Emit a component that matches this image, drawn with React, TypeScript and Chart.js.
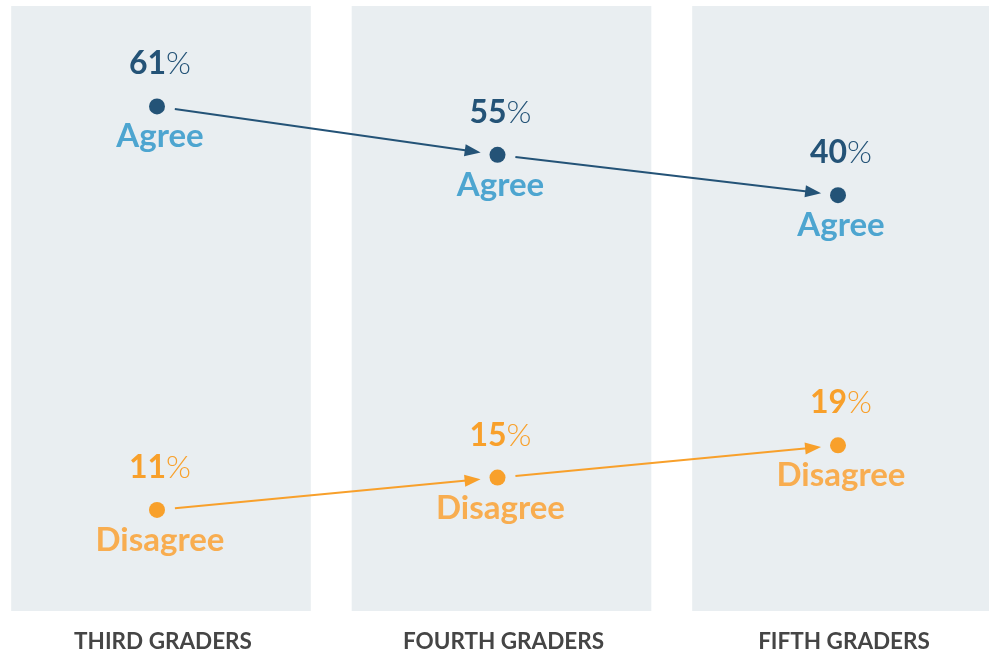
import React, { useEffect, useRef } from "react";
import { Chart, registerables } from "chart.js";

Chart.register(...registerables);

// ---- data ----
const categories = ["THIRD GRADERS", "FOURTH GRADERS", "FIFTH GRADERS"];
const seriesNames = ["Agree", "Disagree"];
// percentages printed above each point
const agreeLabels = [61, 55, 40];
const disagreeLabels = [11, 15, 19];
// heights at which the reference draws each point (the 40% point sits at the 50 level)
const agreePlotted = [61, 55, 50];
const disagreePlotted = [11, 15, 19];

// ---- styles ----
const PANEL = "#e9eef1";
const NAVY = "#245377";
const AGREE_TEXT = "#4da5d0";
const ORANGE = "#f8a02b";
const DISAGREE_TEXT = "#f8ad50";
const AXIS_TEXT = "#454545";
const FONT = "Lato, 'Noto Sans', sans-serif";

const X_MIN = -157 / 340.5;
const X_MAX = 832 / 340.5;
const Y_MIN = -1.53;
const Y_MAX = 73.45;
const PANEL_HALF = 0.44;
const PANEL_SHIFT = 4 / 340.5;
const TEXT_DX = 3;

const numberColors = [NAVY, ORANGE];
const nameColors = [AGREE_TEXT, DISAGREE_TEXT];
const lineColors = [NAVY, ORANGE];
const labelSets = [agreeLabels, disagreeLabels];

const backgroundPlugin = {
  id: "panelsAndArrows",
  beforeDatasetsDraw(chart: any) {
    const { ctx, scales } = chart;
    const x = scales.x;
    const y = scales.y;
    ctx.save();
    ctx.fillStyle = PANEL;
    const top = y.getPixelForValue(Y_MAX);
    const bottom = y.getPixelForValue(Y_MIN);
    categories.forEach((_, i) => {
      const l = x.getPixelForValue(i + PANEL_SHIFT - PANEL_HALF);
      const r = x.getPixelForValue(i + PANEL_SHIFT + PANEL_HALF);
      ctx.fillRect(l, top, r - l, bottom - top);
    });
    // arrows
    [0, 1].forEach((ds) => {
      const pts = chart.getDatasetMeta(ds).data;
      ctx.strokeStyle = lineColors[ds];
      ctx.fillStyle = lineColors[ds];
      ctx.lineWidth = 2;
      for (let i = 0; i < pts.length - 1; i++) {
        const a = pts[i];
        const b = pts[i + 1];
        const dx = b.x - a.x;
        const dy = b.y - a.y;
        const len = Math.hypot(dx, dy);
        const ux = dx / len;
        const uy = dy / len;
        const sx = a.x + ux * 18;
        const sy = a.y + uy * 18;
        const tx = b.x - ux * 17;
        const ty = b.y - uy * 17;
        const headLen = 16;
        const headHalf = 6;
        const bx = tx - ux * headLen;
        const by = ty - uy * headLen;
        ctx.beginPath();
        ctx.moveTo(sx, sy);
        ctx.lineTo(bx + ux * 2, by + uy * 2);
        ctx.stroke();
        ctx.beginPath();
        ctx.moveTo(tx, ty);
        ctx.lineTo(bx - uy * headHalf, by + ux * headHalf);
        ctx.lineTo(bx + uy * headHalf, by - ux * headHalf);
        ctx.closePath();
        ctx.fill();
      }
    });
    ctx.restore();
  },
};

const labelPlugin = {
  id: "pointLabels",
  afterDatasetsDraw(chart: any) {
    const ctx = chart.ctx;
    ctx.save();
    [0, 1].forEach((ds) => {
      const pts = chart.getDatasetMeta(ds).data;
      pts.forEach((pt: any, i: number) => {
        const px = pt.x + TEXT_DX;
        const py = pt.y;
        const num = String(labelSets[ds][i]);
        ctx.textBaseline = "alphabetic";
        ctx.textAlign = "left";
        ctx.font = `700 32px ${FONT}`;
        const w1 = ctx.measureText(num).width;
        ctx.font = `300 32px ${FONT}`;
        const w2 = ctx.measureText("%").width;
        const start = px - (w1 + w2) / 2;
        ctx.fillStyle = numberColors[ds];
        ctx.font = `700 32px ${FONT}`;
        ctx.fillText(num, start, py - 32);
        ctx.font = `300 32px ${FONT}`;
        ctx.fillText("%", start + w1, py - 32);
        ctx.font = `700 33px ${FONT}`;
        ctx.textAlign = "center";
        ctx.fillStyle = nameColors[ds];
        ctx.fillText(seriesNames[ds], px, py + 41);
      });
    });
    ctx.restore();
  },
};

export default function App() {
  const canvasRef = useRef<HTMLCanvasElement | null>(null);

  useEffect(() => {
    document.body.style.margin = "0";
    const canvas = canvasRef.current;
    if (!canvas) return;
    const chart = new Chart(canvas, {
      type: "scatter",
      data: {
        datasets: [
          {
            label: seriesNames[0],
            data: agreePlotted.map((v, i) => ({ x: i, y: v })),
            pointRadius: 8,
            pointHoverRadius: 8,
            pointBackgroundColor: NAVY,
            pointBorderWidth: 0,
            showLine: false,
          },
          {
            label: seriesNames[1],
            data: disagreePlotted.map((v, i) => ({ x: i, y: v })),
            pointRadius: 8,
            pointHoverRadius: 8,
            pointBackgroundColor: ORANGE,
            pointBorderWidth: 0,
            showLine: false,
          },
        ],
      },
      options: {
        animation: false,
        responsive: true,
        maintainAspectRatio: false,
        layout: { autoPadding: false, padding: { top: 6, left: 0, right: 0, bottom: 0 } },
        plugins: {
          legend: { display: false },
          tooltip: { enabled: false },
        },
        scales: {
          x: {
            type: "linear",
            min: X_MIN,
            max: X_MAX,
            grid: { display: false, drawTicks: false },
            border: { display: false },
            afterBuildTicks: (scale: any) => {
              scale.ticks = categories.map((_, i) => ({ value: i }));
            },
            afterFit: (scale: any) => {
              scale.height = 43;
              scale.paddingLeft = 0;
              scale.paddingRight = 0;
            },
            ticks: {
              autoSkip: false,
              maxRotation: 0,
              padding: 17,
              labelOffset: 6,
              color: AXIS_TEXT,
              font: { family: FONT, size: 22.5, weight: "bold" },
              callback: (v: any) => categories[Math.round(Number(v))] ?? "",
            },
          },
          y: {
            type: "linear",
            display: false,
            min: Y_MIN,
            max: Y_MAX,
          },
        },
      },
      plugins: [backgroundPlugin, labelPlugin],
    } as any);
    return () => chart.destroy();
  }, []);

  return (
    <div style={{ width: 989, height: 654, position: "relative" }}>
      <canvas ref={canvasRef} />
    </div>
  );
}
